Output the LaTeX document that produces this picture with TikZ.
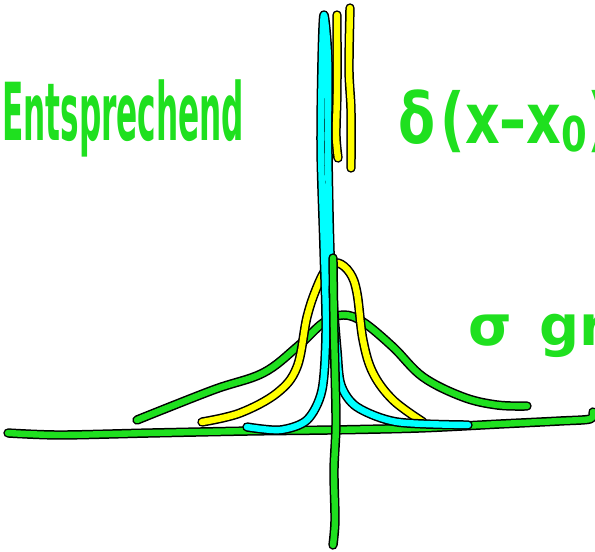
\documentclass[tikz,border=0pt]{standalone}
\usepackage{fontspec}
\setmainfont{DejaVu Sans}
\definecolor{sketchgreen}{HTML}{1FE01F}
\definecolor{sketchyellow}{HTML}{FFFF00}
\definecolor{sketchcyan}{HTML}{00FFFF}
\tikzset{
  pen stroke/.style={
    draw=black, line width=1.5pt, double=#1, double distance=6.4pt,
    line cap=round, line join=round
  },
  pen text/.style={
    text=sketchgreen, inner sep=0pt, outer sep=0pt, anchor=base west,
    font=\bfseries
  }
}

\begin{document}
\begin{tikzpicture}[x=1pt,y=-1pt]
  % Keep the board size of the original sketch; letters run off its edges.
  \useasboundingbox (0,0) rectangle (595,552);
  \clip (0,0) rectangle (595,552);

  \node[pen text, font=\fontsize{80}{88}\selectfont\bfseries] (entsprechend)
    at (2,140) {\scalebox{0.39}[1]{Entsprechend}};
  \node[pen text, font=\fontsize{70}{80}\selectfont\bfseries] (delta) at (398,143)
    {\scalebox{0.77}[1]{δ\hspace{7pt}(x–x\raisebox{-8pt}{\fontsize{48}{52}\selectfont\bfseries 0})}};
  \node[pen text, font=\fontsize{56}{60}\selectfont\bfseries] (sigma) at (468,345)
    {σ\hspace{28pt}groß};

  % Horizontal axis, drawn by hand.
  \draw[pen stroke=sketchgreen] plot[smooth, tension=0.5] coordinates {
    (8,433) (60,435) (150,433) (250,431) (330,430) (420,428)
    (500,424) (560,421) (590,419) (593,412)};

  % Wide bell (large sigma).
  \draw[pen stroke=sketchgreen] plot[smooth, tension=0.6] coordinates {
    (137,420) (213,390) (263,373) (297,347) (323,323) (343,315)
    (363,322) (393,347) (423,377) (463,397) (497,405) (527,406)};

  % Narrower bell.
  \draw[pen stroke=sketchyellow] plot[smooth, tension=0.6] coordinates {
    (202,422) (240,413) (277,393) (297,367) (307,317) (317,287)
    (327,268) (338,263) (350,273) (357,293) (363,340) (373,373)
    (393,400) (423,422)};

  % Needle: the bell almost becomes a spike.
  \draw[pen stroke=sketchcyan] plot[smooth, tension=0.5] coordinates {
    (247,427) (280,430) (307,420) (322,390) (326,330) (324,250)
    (321,150) (322,60) (324,15) (328,60) (328,150) (330,250)
    (333,300) (337,350) (341,385) (357,407) (397,422) (468,425)};

  % Vertical axis.
  \draw[pen stroke=sketchgreen] plot[smooth, tension=0.5] coordinates {
    (333,258) (334,330) (336,420) (334,470) (335,520) (333,545)};

  % Two strokes marking the height of the peak.
  \draw[pen stroke=sketchyellow] plot[smooth, tension=0.5] coordinates {
    (337,15) (337,90) (336,135) (338,158)};
  \draw[pen stroke=sketchyellow] plot[smooth, tension=0.5] coordinates {
    (350,8) (349,70) (351,110) (351,168)};
\end{tikzpicture}
\end{document}
